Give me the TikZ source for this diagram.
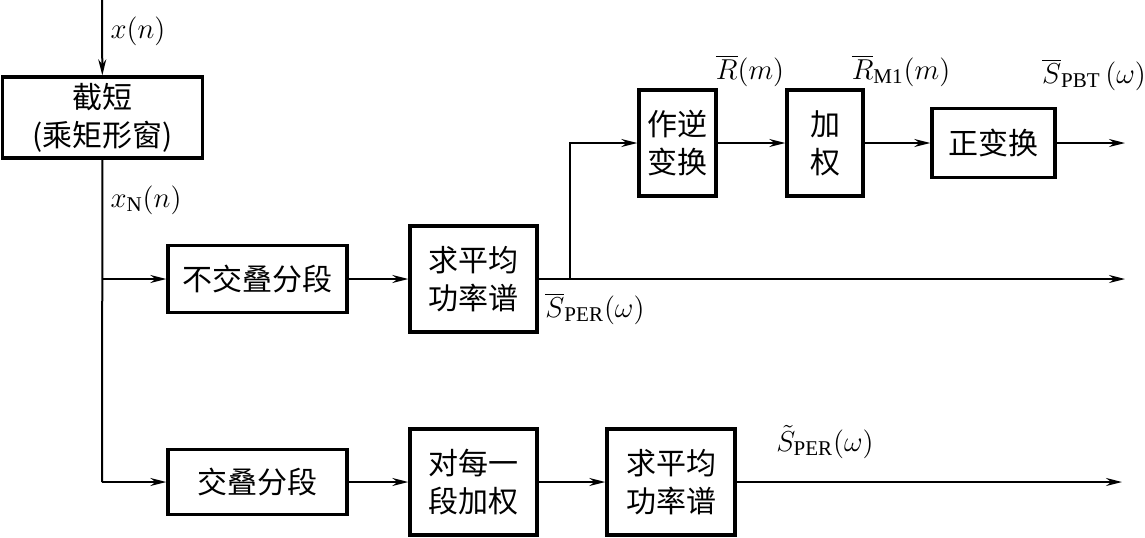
\documentclass[tikz,border=0pt]{standalone}
\usepackage{fontspec}
\setmainfont{Liberation Serif}
\newfontfamily\cjk{Noto Sans CJK SC}
\usetikzlibrary{arrows.meta}
\begin{document}
\begin{tikzpicture}[x=0.5pt,y=-0.5pt,line width=1pt,
    >={Stealth[length=8pt,width=4pt]},
    blk/.style 2 args={draw,line width=1.7pt,minimum width=#1,minimum height=#2,
      inner sep=0pt,align=center,font=\cjk\fontsize{15}{19}\selectfont},
    sig/.style={font=\fontsize{15}{17}\selectfont}]
    \useasboundingbox (0,0) rectangle (1145,537);
    \node[blk={100pt}{40.5pt}] (trunc) at (102.5,117.5) {截短\\(乘矩形窗)};
    \node[blk={89.5pt}{33.5pt}] (nonov) at (257.5,279) {不交叠分段};
    \node[blk={63.5pt}{53pt}] (avg1) at (473.5,279) {求平均\\功率谱};
    \node[blk={38.5pt}{53pt}] (inv) at (677.5,143) {作逆\\变换};
    \node[blk={38pt}{53pt}] (wgt) at (825,143) {加\\权};
    \node[blk={61.5pt}{34.5pt}] (fwd) at (993.5,143) {正变换};
    \node[blk={89.5pt}{32.5pt}] (ov) at (257.5,482) {交叠分段};
    \node[blk={63.5pt}{53pt}] (segw) at (473.5,482) {对每一\\段加权};
    \node[blk={64pt}{53pt}] (avg2) at (671,482) {求平均\\功率谱};
    \coordinate (in) at (102,0);
    \coordinate (b1) at (102,279);
    \coordinate (b2) at (102,482);
    \coordinate (sp) at (570,279);
    \coordinate (e1) at (1125,143);
    \coordinate (e2) at (1125,279);
    \coordinate (e3) at (1122,482);
    \node[sig] (xn) at (138,31) {$x(n)$};
    \node[sig] (xN) at (146,200) {$x_{\mathrm{N}}(n)$};
    \node[sig] (Rm) at (750,71) {$\overline{R}(m)$};
    \node[sig] (RM) at (901,71) {$\overline{R}_{\mathrm{M1}}(m)$};
    \node[sig] (Spbt) at (1094,75) {$\overline{S}_{\mathrm{PBT}}\,(\omega)$};
    \node[sig] (Sper) at (595,309) {$\overline{S}_{\mathrm{PER}}(\omega)$};
    \node[sig] (Sovl) at (825,442) {$\tilde{S}_{\mathrm{PER}}(\omega)$};
    \draw (trunc) -- (b2);
    \path[->](in)	edge	(trunc)
	(b1)	edge	(nonov)
	(b2)	edge	(ov)
	(nonov)	edge	(avg1)
	(inv)	edge	(wgt)
	(wgt)	edge	(fwd)
	(fwd)	edge	(e1)
	(avg1)	edge	(e2)
	(ov)	edge	(segw)
	(segw)	edge	(avg2)
	(avg2)	edge	(e3);
    \draw[->] (sp) |- (inv);
  \end{tikzpicture}
\end{document}
